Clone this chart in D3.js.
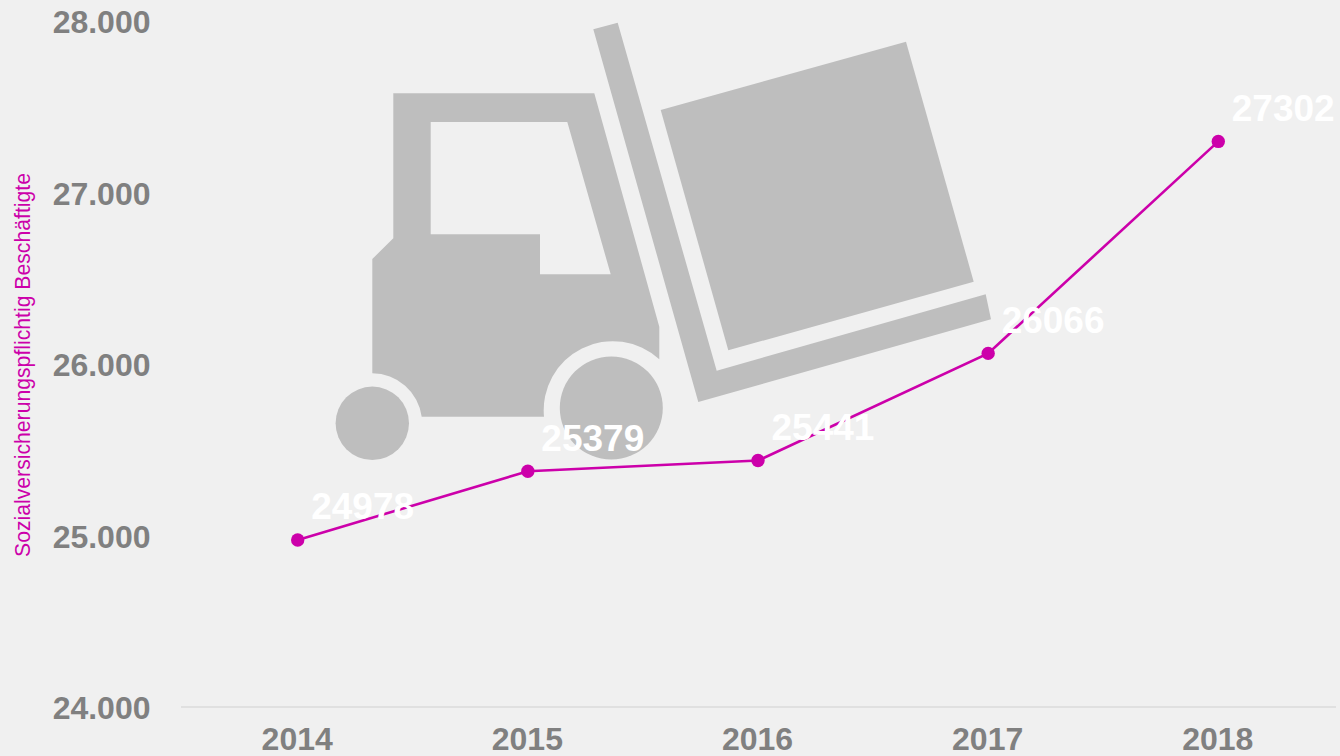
<!DOCTYPE html>
<html><head><meta charset="utf-8">
<style>html,body{margin:0;padding:0;background:#f0f0f0;overflow:hidden}svg{display:block}text{font-family:"Liberation Sans",Arial,sans-serif}</style>
<script src="https://cdn.jsdelivr.net/npm/d3@7"></script></head>
<body><svg id="c" width="1340" height="756"></svg>
<script>
const years = ["2014","2015","2016","2017","2018"];
const employees = [24978,25379,25441,26066,27302];
const yTicks = [24000,25000,26000,27000,28000];
const yTitle = "Sozialversicherungspflichtig Beschäftigte";
const forkliftBody = "M393.3 93.3H594.3L659.3 326.7V359.3A69 69 0 0 0 544 416.7H421.7A50 50 0 0 0 372.3 373.3V259L393.3 238.3ZM430.7 122V234.3H540V274.3H610.7L567.3 122Z";
const forkliftMast = "M593.3 29.3L617.7 22.7L716.7 370.7L985.7 294.3L991 319.3L698.3 402Z";
const forkliftBox = "M660.7 110L906 41.7L973.7 281.7L728.3 350.3Z";
const forkliftWheels = [[372.3,423.3,36.7],[611.3,408,51.5]];

const svg = d3.select("#c");
const x = d3.scalePoint().domain(years).range([297.7,1218.3]);
const y = d3.scaleLinear().domain([24000,28000]).range([707.7,21.7]);
const de = d3.formatLocale({decimal:",",thousands:".",grouping:[3],currency:["","€"]});

const icon = svg.append("g").attr("fill","#bebebe");
icon.append("path").attr("fill-rule","evenodd").attr("d",forkliftBody);
icon.append("path").attr("d",forkliftMast);
icon.append("path").attr("d",forkliftBox);
icon.selectAll("circle").data(forkliftWheels).join("circle")
  .attr("cx",d=>d[0]).attr("cy",d=>d[1]).attr("r",d=>d[2]);

svg.append("line").attr("x1",181).attr("x2",1336).attr("y1",707).attr("y2",707).attr("stroke","#e0e0e0").attr("stroke-width",2);

const xAxis = d3.axisBottom(x).tickSize(0).tickPadding(20.5);
const gx = svg.append("g").attr("transform","translate(-1,707)").call(xAxis);
gx.select(".domain").remove();
gx.selectAll("text").attr("font-size",32).attr("font-weight","bold").attr("fill","#808080").attr("font-family","Liberation Sans");

const yAxis = d3.axisLeft(y).tickValues(yTicks).tickSize(0).tickPadding(0).tickFormat(de.format(","));
const gy = svg.append("g").attr("transform","translate(150.5,0.7)").call(yAxis);
gy.select(".domain").remove();
gy.selectAll("text").attr("font-size",32).attr("font-weight","bold").attr("fill","#808080").attr("font-family","Liberation Sans");

svg.append("text").attr("transform","translate(30,557) rotate(-90)")
  .attr("font-size",21.2).attr("fill","#cc00aa").text(yTitle);

const line = d3.line().x((d,i)=>x(years[i])).y(d=>y(d));
svg.append("path").datum(employees).attr("d",line).attr("fill","none").attr("stroke","#cc00aa").attr("stroke-width",2.6);
svg.selectAll(".pt").data(employees).join("circle").attr("class","pt")
  .attr("cx",(d,i)=>x(years[i])).attr("cy",d=>y(d)).attr("r",6.7).attr("fill","#cc00aa");
svg.selectAll(".val").data(employees).join("text").attr("class","val")
  .attr("x",(d,i)=>x(years[i])+13.5).attr("y",d=>y(d)-20.5)
  .attr("font-size",37).attr("font-weight","bold").attr("fill","#fff").text(d=>d);
</script></body></html>
